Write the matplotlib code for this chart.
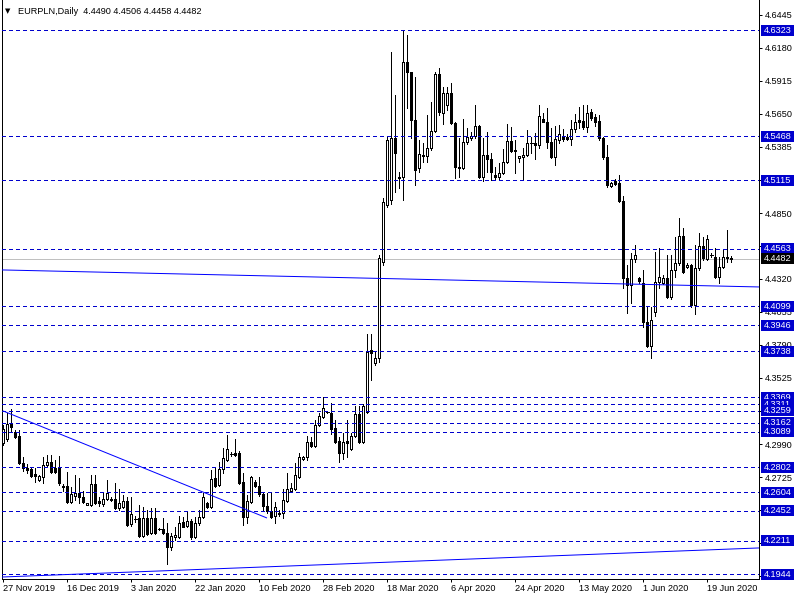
import matplotlib
matplotlib.use("Agg")
import matplotlib.pyplot as plt
import matplotlib.transforms as mtransforms
from matplotlib.patches import Rectangle

plt.rcParams['font.family'] = ['Liberation Sans', 'DejaVu Sans']
plt.rcParams['lines.scale_dashes'] = False

# ---------------- data ----------------
title_text = "EURPLN,Daily  4.4490 4.4506 4.4458 4.4482"

opens = [
    4.2999, 4.3032, 4.3152, 4.3088, 4.3056, 4.2838, 4.2798, 4.2790, 4.2750, 4.2701,
    4.2726, 4.2822, 4.2846, 4.2798, 4.2806, 4.2653, 4.2653, 4.2524, 4.2573, 4.2597,
    4.2565, 4.2500, 4.2500, 4.2669, 4.2532, 4.2508, 4.2548, 4.2548, 4.2548, 4.2476,
    4.2484, 4.2532, 4.2347, 4.2387, 4.2395, 4.2250, 4.2395, 4.2274, 4.2395, 4.2307,
    4.2307, 4.2274, 4.2161, 4.2242, 4.2242, 4.2363, 4.2331, 4.2371, 4.2242, 4.2355,
    4.2403, 4.2516, 4.2484, 4.2718, 4.2661, 4.2790, 4.2862, 4.2911, 4.2919, 4.2919,
    4.2685, 4.2403, 4.2524, 4.2685, 4.2653, 4.2589, 4.2492, 4.2452, 4.2411, 4.2436,
    4.2436, 4.2532, 4.2613, 4.2629, 4.2726, 4.2870, 4.2887, 4.3007, 4.2975, 4.3144,
    4.3209, 4.3249, 4.3241, 4.3120, 4.3015, 4.2919, 4.3015, 4.2951, 4.3055, 4.3233,
    4.3007, 4.3249, 4.3748, 4.3643, 4.3683, 4.4456, 4.4915, 4.4955, 4.5454, 4.5140,
    4.5140, 4.6066, 4.5985, 4.5599, 4.5213, 4.5309, 4.5309, 4.5374, 4.5511, 4.5969,
    4.5655, 4.5720, 4.5817, 4.5575, 4.5221, 4.5213, 4.5422, 4.5454, 4.5470, 4.5551,
    4.5140, 4.5317, 4.5285, 4.5156, 4.5140, 4.5172, 4.5261, 4.5430, 4.5358, 4.5293,
    4.5301, 4.5317, 4.5414, 4.5414, 4.5398, 4.5607, 4.5583, 4.5422, 4.5301, 4.5438,
    4.5470, 4.5462, 4.5446, 4.5527, 4.5599, 4.5591, 4.5543, 4.5663, 4.5623, 4.5591,
    4.5454, 4.5301, 4.5068, 4.5108, 4.5092, 4.4947, 4.4327, 4.4271, 4.4480, 4.4327,
    4.4287, 4.3973, 4.3780, 4.4054, 4.4295, 4.4287, 4.4327, 4.4174, 4.4392, 4.4448,
    4.4665, 4.4416, 4.4432, 4.4110, 4.4408, 4.4585, 4.4480, 4.4512, 4.4496, 4.4335,
    4.4416, 4.4488, 4.4490]

highs = [
    4.3144, 4.3241, 4.3273, 4.3104, 4.3104, 4.2887, 4.2830, 4.2806, 4.2798, 4.2742,
    4.2887, 4.2903, 4.2903, 4.2862, 4.2895, 4.2669, 4.2766, 4.2645, 4.2742, 4.2718,
    4.2613, 4.2516, 4.2742, 4.2742, 4.2565, 4.2605, 4.2701, 4.2565, 4.2677, 4.2629,
    4.2581, 4.2565, 4.2565, 4.2411, 4.2500, 4.2484, 4.2460, 4.2476, 4.2476, 4.2315,
    4.2395, 4.2355, 4.2274, 4.2323, 4.2411, 4.2403, 4.2452, 4.2387, 4.2403, 4.2460,
    4.2597, 4.2524, 4.2782, 4.2806, 4.2846, 4.2959, 4.3063, 4.2927, 4.3031, 4.2935,
    4.2758, 4.2581, 4.2734, 4.2701, 4.2726, 4.2605, 4.2597, 4.2597, 4.2524, 4.2460,
    4.2629, 4.2758, 4.2677, 4.2838, 4.2919, 4.2895, 4.3055, 4.3047, 4.3184, 4.3241,
    4.3370, 4.3257, 4.3321, 4.3184, 4.3047, 4.3080, 4.3184, 4.3080, 4.3297, 4.3297,
    4.3313, 4.3876, 4.3876, 4.3732, 4.4512, 4.4971, 4.5462, 4.6146, 4.5800, 4.5180,
    4.6316, 4.6283, 4.5961, 4.5945, 4.5438, 4.5414, 4.5639, 4.5744, 4.5985, 4.6018,
    4.5865, 4.5865, 4.5897, 4.5583, 4.5454, 4.5607, 4.5535, 4.5503, 4.5720, 4.5559,
    4.5454, 4.5503, 4.5334, 4.5221, 4.5253, 4.5366, 4.5567, 4.5543, 4.5438, 4.5309,
    4.5374, 4.5519, 4.5462, 4.5495, 4.5720, 4.5655, 4.5696, 4.5535, 4.5551, 4.5559,
    4.5527, 4.5486, 4.5599, 4.5647, 4.5704, 4.5720, 4.5720, 4.5688, 4.5647, 4.5639,
    4.5462, 4.5398, 4.5100, 4.5124, 4.5156, 4.4987, 4.4432, 4.4529, 4.4593, 4.4335,
    4.4392, 4.4094, 4.4094, 4.4537, 4.4569, 4.4351, 4.4512, 4.4512, 4.4657, 4.4810,
    4.4730, 4.4448, 4.4440, 4.4593, 4.4690, 4.4657, 4.4673, 4.4529, 4.4569, 4.4496,
    4.4561, 4.4714, 4.4506]

lows = [
    4.2983, 4.3015, 4.3088, 4.3040, 4.2830, 4.2774, 4.2758, 4.2726, 4.2685, 4.2693,
    4.2677, 4.2806, 4.2758, 4.2758, 4.2661, 4.2613, 4.2516, 4.2516, 4.2540, 4.2516,
    4.2516, 4.2500, 4.2492, 4.2508, 4.2492, 4.2492, 4.2540, 4.2532, 4.2468, 4.2460,
    4.2476, 4.2331, 4.2331, 4.2363, 4.2242, 4.2242, 4.2258, 4.2266, 4.2266, 4.2299,
    4.2266, 4.2025, 4.2138, 4.2218, 4.2234, 4.2323, 4.2323, 4.2226, 4.2234, 4.2339,
    4.2395, 4.2476, 4.2476, 4.2645, 4.2653, 4.2758, 4.2854, 4.2895, 4.2895, 4.2669,
    4.2339, 4.2355, 4.2516, 4.2645, 4.2573, 4.2460, 4.2436, 4.2395, 4.2355, 4.2411,
    4.2395, 4.2524, 4.2605, 4.2621, 4.2718, 4.2862, 4.2862, 4.2967, 4.2967, 4.3136,
    4.3201, 4.3241, 4.3072, 4.2999, 4.2846, 4.2870, 4.2887, 4.2943, 4.3047, 4.2999,
    4.2999, 4.3241, 4.3506, 4.3627, 4.3651, 4.4432, 4.4899, 4.4923, 4.5019, 4.5052,
    4.4955, 4.5696, 4.5454, 4.5076, 4.5181, 4.5261, 4.5261, 4.5358, 4.5503, 4.5639,
    4.5567, 4.5680, 4.5567, 4.5132, 4.5140, 4.5205, 4.5406, 4.5438, 4.5454, 4.5132,
    4.5108, 4.5181, 4.5116, 4.5116, 4.5116, 4.5164, 4.5253, 4.5342, 4.5172, 4.5261,
    4.5116, 4.5309, 4.5334, 4.5285, 4.5374, 4.5583, 4.5374, 4.5293, 4.5237, 4.5414,
    4.5430, 4.5438, 4.5398, 4.5503, 4.5535, 4.5527, 4.5503, 4.5599, 4.5551, 4.5438,
    4.5285, 4.5060, 4.5060, 4.5076, 4.4939, 4.4247, 4.4046, 4.4126, 4.4456, 4.4287,
    4.3933, 4.3772, 4.3683, 4.4022, 4.4247, 4.4279, 4.4166, 4.4158, 4.4335, 4.4432,
    4.4367, 4.4408, 4.4094, 4.4038, 4.4392, 4.4472, 4.4472, 4.4496, 4.4327, 4.4287,
    4.4408, 4.4456, 4.4458]

closes = [
    4.3112, 4.3152, 4.3128, 4.3048, 4.2838, 4.2798, 4.2782, 4.2734, 4.2734, 4.2734,
    4.2822, 4.2846, 4.2766, 4.2766, 4.2677, 4.2645, 4.2524, 4.2589, 4.2597, 4.2565,
    4.2524, 4.2516, 4.2669, 4.2516, 4.2516, 4.2548, 4.2597, 4.2540, 4.2476, 4.2516,
    4.2532, 4.2339, 4.2428, 4.2387, 4.2250, 4.2395, 4.2266, 4.2395, 4.2274, 4.2307,
    4.2274, 4.2161, 4.2250, 4.2258, 4.2355, 4.2323, 4.2371, 4.2242, 4.2355, 4.2403,
    4.2565, 4.2484, 4.2709, 4.2653, 4.2790, 4.2878, 4.2951, 4.2911, 4.2903, 4.2677,
    4.2403, 4.2532, 4.2726, 4.2653, 4.2589, 4.2492, 4.2452, 4.2403, 4.2484, 4.2428,
    4.2540, 4.2629, 4.2637, 4.2742, 4.2887, 4.2887, 4.3007, 4.2975, 4.3144, 4.3217,
    4.3281, 4.3249, 4.3112, 4.3007, 4.2919, 4.3007, 4.2999, 4.3055, 4.3233, 4.3007,
    4.3297, 4.3732, 4.3724, 4.3683, 4.4488, 4.4939, 4.5438, 4.5454, 4.5333, 4.5132,
    4.6066, 4.5985, 4.5599, 4.5197, 4.5325, 4.5317, 4.5374, 4.5511, 4.5969, 4.5663,
    4.5817, 4.5817, 4.5575, 4.5221, 4.5213, 4.5422, 4.5462, 4.5470, 4.5551, 4.5140,
    4.5317, 4.5285, 4.5181, 4.5140, 4.5172, 4.5261, 4.5430, 4.5350, 4.5350, 4.5309,
    4.5317, 4.5414, 4.5414, 4.5398, 4.5631, 4.5583, 4.5422, 4.5301, 4.5446, 4.5486,
    4.5446, 4.5446, 4.5527, 4.5583, 4.5583, 4.5543, 4.5655, 4.5615, 4.5583, 4.5454,
    4.5301, 4.5076, 4.5092, 4.5084, 4.4947, 4.4327, 4.4271, 4.4480, 4.4512, 4.4303,
    4.3973, 4.3780, 4.3989, 4.4295, 4.4335, 4.4327, 4.4174, 4.4392, 4.4448, 4.4665,
    4.4375, 4.4432, 4.4110, 4.4408, 4.4585, 4.4488, 4.4641, 4.4512, 4.4335, 4.4416,
    4.4496, 4.4496, 4.4482]

date_label_bars = [0, 16, 32, 48, 64, 80, 96, 112, 128, 144, 160, 176]
date_labels = ["27 Nov 2019", "16 Dec 2019", "3 Jan 2020", "22 Jan 2020",
               "10 Feb 2020", "28 Feb 2020", "18 Mar 2020", "6 Apr 2020",
               "24 Apr 2020", "13 May 2020", "1 Jun 2020", "19 Jun 2020"]

price_ticks = [4.6445, 4.6180, 4.5915, 4.5650, 4.5385, 4.5120, 4.4850, 4.4585,
               4.4320, 4.4055, 4.3790, 4.3525, 4.3260, 4.2990, 4.2725, 4.2460,
               4.2195, 4.1930]
# scale labels that sit completely under a price box are not visible
hidden_ticks = [4.5120, 4.4585, 4.3260, 4.2460, 4.2195, 4.1930]

level_prices = [4.6323, 4.5468, 4.5115, 4.4563, 4.4099, 4.3946, 4.3738, 4.3369,
                4.3311, 4.3259, 4.3162, 4.3089, 4.2802, 4.2604, 4.2452, 4.2211,
                4.1944]
current_price = 4.4482

trend_a_bars = [-0.25, 189.0]
trend_a_prices = [4.4392, 4.4255]
trend_b_bars = [0.0, 66.0]
trend_b_prices = [4.3257, 4.2395]
trend_c_bars = [-0.25, 189.0]
trend_c_prices = [4.1920, 4.2154]

# ---------------- layout ----------------
W, H = 800, 600
PX = 72.0 / 100.0          # one pixel in points
L, R, T, B = 2, 759, 0, 579
XMIN, XMAX = -0.25, 189.0
YMIN, YMAX = 4.1904, 4.6565
LEVEL_BLUE = '#0000CD'
LINE_BLUE = '#0000FF'
FS = 6.6

fig = plt.figure(figsize=(W / 100, H / 100), dpi=100)
fig.patch.set_facecolor('white')
ax = fig.add_axes([L / W, 1 - B / H, (R - L) / W, (B - T) / H])
ax.set_facecolor('white')
ax.set_xlim(XMIN, XMAX)
ax.set_ylim(YMIN, YMAX)

# current price line (behind candles)
ax.axhline(current_price, color='#C0C0C0', lw=PX, zorder=1.5, antialiased=False)

# candles
n = len(opens)
idx = list(range(n))
ax.vlines(idx, lows, highs, colors='black', lw=PX, zorder=2, antialiased=False)
body_w = 0.5
for i, o, c in zip(idx, opens, closes):
    if abs(c - o) < 0.0004:
        ax.hlines((o + c) / 2, i - 0.375, i + 0.375, colors='black', lw=PX,
                  zorder=3, antialiased=False)
    else:
        face = 'white' if c > o else 'black'
        ax.add_patch(Rectangle((i - body_w / 2, min(o, c)), body_w, abs(c - o),
                               facecolor=face, edgecolor='black', lw=PX,
                               zorder=3, antialiased=False))

# horizontal levels
ax.hlines(level_prices, XMIN, XMAX, colors=LEVEL_BLUE, lw=PX,
          linestyles=[(0, (4 * PX, 3 * PX))], zorder=4, antialiased=False)

# trend lines
for xs, ys in [(trend_a_bars, trend_a_prices), (trend_b_bars, trend_b_prices),
               (trend_c_bars, trend_c_prices)]:
    ax.plot(xs, ys, color=LINE_BLUE, lw=PX, zorder=4.5, solid_capstyle='butt')

# axes styling
ax.spines['top'].set_visible(False)
for s in ['left', 'bottom', 'right']:
    ax.spines[s].set_linewidth(PX)
    ax.spines[s].set_color('black')

ax.yaxis.tick_right()
ax.set_yticks(price_ticks)
ax.set_yticklabels(["" if p in hidden_ticks else f"{p:.4f}" for p in price_ticks])
ax.tick_params(axis='y', direction='out', length=3 * PX, width=PX, pad=3 * PX,
               labelsize=FS, colors='black')
ax.set_xticks(date_label_bars)
ax.set_xticklabels(date_labels)
ax.tick_params(axis='x', direction='out', length=3 * PX, width=PX, pad=2 * PX,
               labelsize=FS, colors='black')
for lbl in ax.get_xticklabels():
    lbl.set_horizontalalignment('left')

# price boxes on the scale
trans = mtransforms.blended_transform_factory(ax.transAxes, ax.transData)
px_x = 1.0 / (R - L)
px_y = (YMAX - YMIN) / (B - T)
box_x0 = 1.0 + 2 * px_x
box_w = 33 * px_x
box_h = 11 * px_y
z = 10
for p in sorted(level_prices, reverse=True):
    ax.add_patch(Rectangle((box_x0, p - box_h / 2), box_w, box_h, transform=trans,
                           facecolor=LEVEL_BLUE, edgecolor='none', clip_on=False,
                           zorder=z, antialiased=False))
    ax.text(box_x0 + 3 * px_x, p, f"{p:.4f}", transform=trans, color='white',
            fontsize=FS, va='center', ha='left', zorder=z + 1, clip_on=False)
    z += 2
ax.add_patch(Rectangle((box_x0, current_price - box_h / 2), box_w, box_h,
                       transform=trans, facecolor='black', edgecolor='none',
                       clip_on=False, zorder=z, antialiased=False))
ax.text(box_x0 + 3 * px_x, current_price, f"{current_price:.4f}", transform=trans,
        color='white', fontsize=FS, va='center', ha='left', zorder=z + 1, clip_on=False)

# header
fig.text(5 / W, 1 - 11 / H, "\u25BC", fontsize=5, va='center', ha='left', color='black',
         family=['DejaVu Sans'])
fig.text(18 / W, 1 - 11 / H, title_text, fontsize=FS, va='center', ha='left', color='black')

fig.savefig('out.png', dpi=100)
